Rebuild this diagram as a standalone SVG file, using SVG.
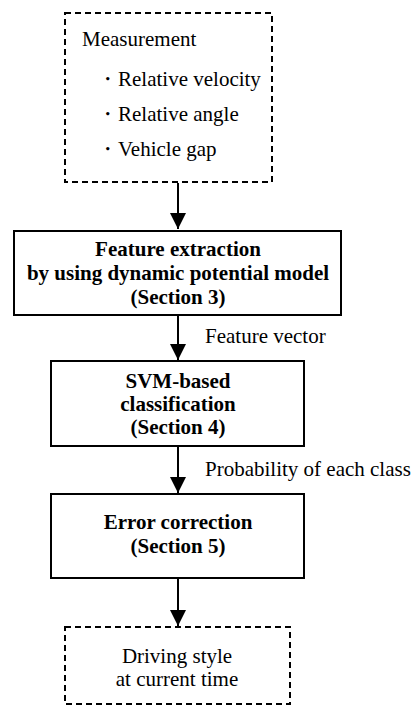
<svg xmlns="http://www.w3.org/2000/svg" width="415" height="708" viewBox="0 0 415 708">
<style>
text{font-family:"Liberation Serif","Times New Roman",serif;font-size:21px;fill:#000}
.b{font-weight:bold}
.c{text-anchor:middle}
.dash{fill:#fff;stroke:#000;stroke-width:2;stroke-dasharray:6 4}
.box{fill:#fff;stroke:#000;stroke-width:2}
.ln{stroke:#000;stroke-width:2;fill:none}
</style>
<defs>
<marker id="ah" markerUnits="userSpaceOnUse" markerWidth="18" markerHeight="18" refX="16" refY="8" orient="auto">
<path d="M0,0 L16,8 L0,16 Z" fill="#000"/>
</marker>
</defs>
<rect width="415" height="708" fill="#fff"/>
<g id="connectors">
<line class="ln" x1="178" y1="183" x2="178" y2="229" marker-end="url(#ah)"/>
<line class="ln" x1="178" y1="315" x2="178" y2="360" marker-end="url(#ah)"/>
<line class="ln" x1="178" y1="446" x2="178" y2="493" marker-end="url(#ah)"/>
<line class="ln" x1="178" y1="578" x2="178" y2="626" marker-end="url(#ah)"/>
<text x="205" y="343">Feature vector</text>
<text x="205" y="476">Probability of each class</text>
</g>
<g id="measurement">
<rect class="dash" x="65" y="13" width="207" height="169"/>
<text x="82" y="46">Measurement</text>
<text x="97" y="86">・Relative velocity</text>
<text x="97" y="121">・Relative angle</text>
<text x="97" y="156">・Vehicle gap</text>
</g>
<g id="feature-extraction">
<rect class="box" x="14" y="231" width="327" height="84"/>
<text class="b c" x="178" y="256">Feature extraction</text>
<text class="b c" x="178" y="280">by using dynamic potential model</text>
<text class="b c" x="178" y="304">(Section 3)</text>
</g>
<g id="svm">
<rect class="box" x="51" y="361" width="253" height="85"/>
<text class="b c" x="178" y="388">SVM-based</text>
<text class="b c" x="178" y="411">classification</text>
<text class="b c" x="178" y="434">(Section 4)</text>
</g>
<g id="error-correction">
<rect class="box" x="51" y="494" width="253" height="84"/>
<text class="b c" x="178" y="529">Error correction</text>
<text class="b c" x="178" y="553">(Section 5)</text>
</g>
<g id="driving-style">
<rect class="dash" x="65" y="627" width="225" height="77"/>
<text class="c" x="177" y="663">Driving style</text>
<text class="c" x="177" y="686">at current time</text>
</g>
</svg>
